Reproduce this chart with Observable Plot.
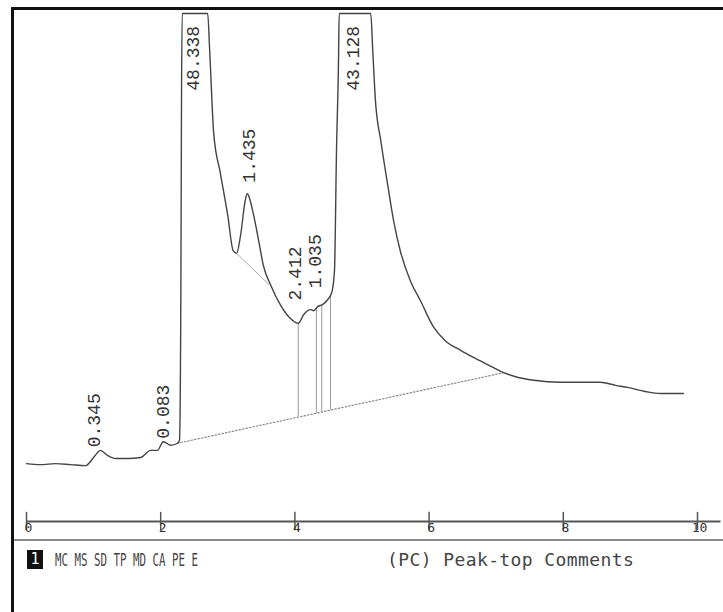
<!DOCTYPE html>
<html>
<head>
<meta charset="utf-8">
<script src="https://cdn.jsdelivr.net/npm/d3@7"></script>
<script src="https://cdn.jsdelivr.net/npm/@observablehq/plot@0.6"></script>
<style>
  html, body { margin: 0; padding: 0; background: #fff; }
  #page { position: relative; width: 723px; height: 612px; overflow: hidden; }
  #frame {
    position: absolute; left: 11px; top: 7px; right: 0; bottom: 0;
    border-left: 3px solid #111; border-top: 3px solid #111;
    box-sizing: border-box; pointer-events: none;
  }
  #chart { position: absolute; left: 0; top: 0; }
  #status {
    position: absolute; left: 14px; top: 539px; right: 0; height: 40px;
    border-top: 2px solid #8c8c8c;
    font-family: "DejaVu Sans Mono", monospace; color: #444;
  }
  #status .key {
    position: absolute; left: 13px; top: 9px; width: 16px; height: 19px;
    background: #111; color: #fff; font-size: 15px; line-height: 19px; text-align: center;
  }
  #status .menu {
    position: absolute; left: 41px; top: 8px; font-size: 18px; white-space: pre;
    transform: scaleX(0.6); transform-origin: left center;
  }
  #status .mode {
    position: absolute; left: 373px; top: 8px; font-size: 18px; white-space: pre;
    letter-spacing: 0.4px;
  }
</style>
</head>
<body>
<div id="page">
  <div id="chart"></div>
  <div id="status">
    <span class="key">1</span>
    <span class="menu">MC MS SD TP MD CA PE E</span>
    <span class="mode">(PC) Peak-top Comments</span>
  </div>
  <div id="frame"></div>
</div>
<script>
// Detector trace: retention time (min) and signal (% of recorder full scale)
const times = [
  0.00, 0.21, 0.43, 0.66, 0.88, 1.00, 1.06, 1.10, 1.21, 1.33, 1.51, 1.70, 1.85, 1.95,
  2.04, 2.15, 2.25, 2.28, 2.30, 2.31, 2.32, 2.70, 2.73, 2.79, 2.89, 3.00, 3.08, 3.13,
  3.19, 3.26, 3.29, 3.32, 3.38, 3.46, 3.53, 3.64, 3.79, 3.93, 4.05, 4.13, 4.17, 4.23,
  4.28, 4.34, 4.41, 4.49, 4.55, 4.59, 4.62, 4.65, 4.66, 5.13, 5.16, 5.20, 5.28, 5.38,
  5.47, 5.57, 5.72, 5.87, 6.07, 6.24, 6.47, 6.69, 6.96, 7.11, 7.29, 7.56, 7.96, 8.26,
  8.55, 8.78, 8.96, 9.22, 9.45, 9.79
];
const signal = [
  11.4, 11.2, 11.4, 11.2, 11.0, 12.6, 13.6, 14.0, 13.0, 12.4, 12.4, 12.6, 14.0, 14.0,
  15.7, 15.0, 15.4, 16.0, 43.5, 82.9, 100, 100, 92.7, 76.4, 68.5, 60.2, 53.3, 52.8,
  56.3, 63.2, 64.6, 63.8, 60.6, 55.3, 50.4, 46.5, 42.5, 40.0, 39.0, 40.7, 41.3, 41.7,
  41.5, 42.3, 42.7, 43.7, 45.1, 49.4, 73.0, 90.7, 100, 100, 92.7, 82.9, 75.0, 66.5,
  59.3, 53.3, 47.4, 43.5, 38.2, 35.6, 33.7, 32.1, 30.3, 29.3, 28.5, 27.8, 27.4, 27.4,
  27.4, 26.8, 26.4, 25.6, 25.2, 25.2
];

// Peak-top comments (area %), placed at each peak top
const peakLabels = ["0.345", "0.083", "48.338", "1.435", "2.412", "1.035", "43.128"];
const labelTimes = [1.01, 2.04, 2.49, 3.32, 4.01, 4.31, 4.87];
const labelLevels = [14.6, 16.3, 84.8, 66.7, 43.5, 45.9, 84.8];

// Integration baseline and peak separation
const baselineTimes = [2.25, 7.11];
const baselineLevels = [15.4, 29.3];
const skimTimes = [3.13, 3.61];
const skimLevels = [52.8, 46.7];
const dropTimes = [4.05, 4.32, 4.40, 4.53];

// Time axis (min)
const axisTicks = [0, 2, 4, 6, 8, 10];
const axisLabels = ["0", "2", "4", "6", "8", "10"];
const axisEnd = 10.35;

const trace = times.map((t, i) => ({t, v: signal[i]}));
const labels = peakLabels.map((s, i) => ({t: labelTimes[i], v: labelLevels[i], s}));
const baseline = baselineTimes.map((t, i) => ({t, v: baselineLevels[i]}));
const skim = skimTimes.map((t, i) => ({t, v: skimLevels[i]}));

const traceAt = d3.scaleLinear().domain(times).range(signal);
const baseAt = d3.scaleLinear().domain(baselineTimes).range(baselineLevels);
const drops = dropTimes.map(t => ({t, lo: baseAt(t), hi: traceAt(t)}));
const ticks = axisTicks.map((t, i) => ({t, s: axisLabels[i]}));

const chart = Plot.plot({
  width: 723,
  height: 538,
  marginLeft: 26,
  marginRight: 26,
  marginTop: 13,
  marginBottom: 17,
  x: {domain: [0, 10], axis: null},
  y: {domain: [0, 100], axis: null},
  style: {background: "transparent", overflow: "visible"},
  marks: [
    // time axis
    Plot.ruleY([0], {x1: 0, x2: axisEnd, stroke: "#555", strokeWidth: 2}),
    Plot.ruleX(ticks, {x: "t", y1: -1.8, y2: 1.8, stroke: "#555", strokeWidth: 1.5}),
    Plot.text(ticks, {x: "t", y: 0, text: "s", dy: 6, dx: 2, fontSize: 13,
      fontFamily: "DejaVu Sans Mono", fill: "#333"}),
    // integration baseline and peak drops
    Plot.line(baseline, {x: "t", y: "v", stroke: "#888", strokeWidth: 1.2, strokeDasharray: "1.5,2"}),
    Plot.line(skim, {x: "t", y: "v", stroke: "#aaa", strokeWidth: 1}),
    Plot.ruleX(drops, {x: "t", y1: "lo", y2: "hi", stroke: "#999", strokeWidth: 1}),
    // detector trace
    Plot.line(trace, {x: "t", y: "v", curve: "monotone-x", stroke: "#444", strokeWidth: 1.4}),
    // peak-top comments
    Plot.text(labels, {x: "t", y: "v", text: "s", rotate: -90, textAnchor: "start",
      fontSize: 18, fontFamily: "Liberation Mono", fill: "#333"})
  ]
});
document.getElementById("chart").append(chart);
</script>
</body>
</html>
